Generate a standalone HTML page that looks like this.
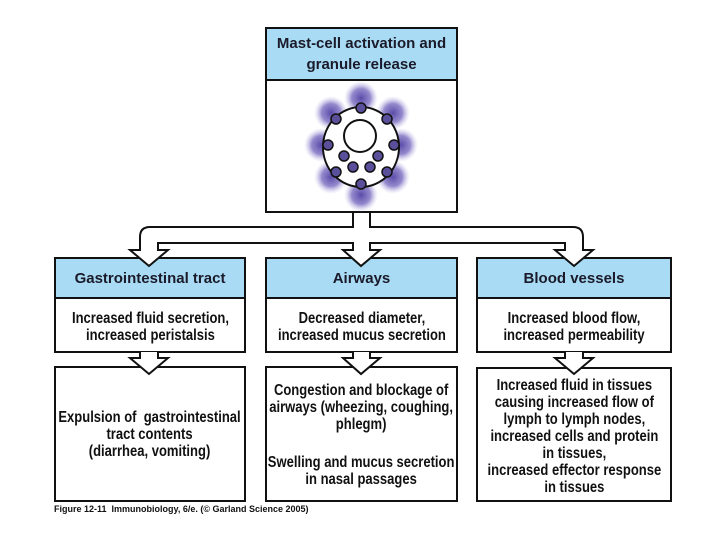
<!DOCTYPE html>
<html><head><meta charset="utf-8"><style>
body{margin:0;width:720px;height:540px;background:#fff;position:relative;overflow:hidden;font-family:"Liberation Sans",sans-serif;}
.b{position:absolute;border:2px solid #111;box-sizing:border-box;background:#fff;}
.h{position:absolute;background:#a9dcf4;border:2px solid #111;box-sizing:border-box;display:flex;align-items:center;justify-content:center;text-align:center;font-weight:bold;font-size:15px;color:#1a1a2a;line-height:21px;white-space:nowrap;}
.t{position:absolute;text-align:center;display:flex;align-items:center;justify-content:center;}
.t span{display:inline-block;font-weight:bold;font-size:15.5px;line-height:17px;color:#111;white-space:nowrap;transform:scaleX(0.84);}
svg{position:absolute;left:0;top:0;}
</style></head><body>
<div class="b" style="left:265px;top:27px;width:193px;height:186px"></div>
<div class="h" style="left:265px;top:27px;width:193px;height:54px">Mast-cell activation and<br>granule release</div>

<div class="b" style="left:54px;top:257px;width:192px;height:96px"></div>
<div class="h" style="left:54px;top:257px;width:192px;height:42px">Gastrointestinal tract</div>
<div class="t" style="left:54px;top:300px;width:192px;height:54px"><span>Increased fluid secretion,<br>increased peristalsis</span></div>
<div class="b" style="left:54px;top:366px;width:192px;height:136px"></div>
<div class="t" style="left:54px;top:366px;width:192px;height:136px"><span>Expulsion of &nbsp;gastrointestinal<br>tract contents<br>(diarrhea, vomiting)</span></div>

<div class="b" style="left:265px;top:257px;width:193px;height:96px"></div>
<div class="h" style="left:265px;top:257px;width:193px;height:42px">Airways</div>
<div class="t" style="left:265px;top:300px;width:193px;height:54px"><span>Decreased diameter,<br>increased mucus secretion</span></div>
<div class="b" style="left:265px;top:366px;width:193px;height:136px"></div>
<div class="t" style="left:265px;top:382px;width:193px;height:116px;align-items:flex-start"><span>Congestion and blockage of<br>airways (wheezing, coughing,<br>phlegm)<br><span style="display:block;height:21px;transform:none"></span>Swelling and mucus secretion<br>in nasal passages</span></div>

<div class="b" style="left:476px;top:257px;width:196px;height:96px"></div>
<div class="h" style="left:476px;top:257px;width:196px;height:42px">Blood vessels</div>
<div class="t" style="left:476px;top:300px;width:196px;height:54px"><span>Increased blood flow,<br>increased permeability</span></div>
<div class="b" style="left:476px;top:367px;width:196px;height:135px"></div>
<div class="t" style="left:476px;top:369px;width:196px;height:135px"><span>Increased fluid in tissues<br>causing increased flow of<br>lymph to lymph nodes,<br>increased cells and protein<br>in tissues,<br>increased effector response<br>in tissues</span></div>

<svg width="720" height="540" viewBox="0 0 720 540">
<defs><radialGradient id="g"><stop offset="0" stop-color="#5a4aa8"/><stop offset="0.55" stop-color="#7a6cc0" stop-opacity="0.8"/><stop offset="1" stop-color="#c8c0ea" stop-opacity="0"/></radialGradient></defs>
<g>
<circle cx="361" cy="98" r="17" fill="url(#g)"/>
<circle cx="331" cy="113" r="17" fill="url(#g)"/>
<circle cx="393" cy="113" r="17" fill="url(#g)"/>
<circle cx="321" cy="145" r="17" fill="url(#g)"/>
<circle cx="401" cy="145" r="17" fill="url(#g)"/>
<circle cx="331" cy="177" r="17" fill="url(#g)"/>
<circle cx="393" cy="177" r="17" fill="url(#g)"/>
<circle cx="361" cy="195" r="17" fill="url(#g)"/>
</g>
<ellipse cx="361" cy="147" rx="38" ry="40" fill="#fff" stroke="#111" stroke-width="2"/>
<circle cx="360" cy="136" r="16" fill="#fff" stroke="#111" stroke-width="2"/>
<g fill="#5a4f9a" stroke="#111" stroke-width="1.5">
<circle cx="361" cy="108" r="5"/><circle cx="336" cy="119" r="5"/><circle cx="387" cy="119" r="5"/>
<circle cx="328" cy="145" r="5"/><circle cx="394" cy="145" r="5"/>
<circle cx="336" cy="172" r="5"/><circle cx="387" cy="172" r="5"/><circle cx="361" cy="184" r="5"/>
<circle cx="344" cy="156" r="5"/><circle cx="378" cy="156" r="5"/><circle cx="353" cy="167" r="5"/><circle cx="370" cy="167" r="5"/>
</g>
<path d="M353,213 L353,227 L150,227 Q140,227 140,237 L140,250 L130,250 L149,266 L168,250 L158,250 L158,243 L353,243 L353,250 L343,250 L361,266 L380,250 L370,250 L370,243 L565,243 L565,250 L555,250 L574,266 L593,250 L583,250 L583,237 Q583,227 573,227 L370,227 L370,213" fill="#fff" stroke="#111" stroke-width="2" stroke-linejoin="miter"/>
<path d="M140,352 L140,358 L130,358 L149,374 L168,358 L158,358 L158,352" fill="#fff" stroke="#111" stroke-width="2"/>
<path d="M353,352 L353,358 L343,358 L361,374 L380,358 L370,358 L370,352" fill="#fff" stroke="#111" stroke-width="2"/>
<path d="M565,352 L565,358 L555,358 L574,374 L593,358 L583,358 L583,352" fill="#fff" stroke="#111" stroke-width="2"/>
</svg>
<div style="position:absolute;left:54px;top:504px;font-size:9px;font-weight:bold;color:#111;white-space:nowrap">Figure 12-11 &nbsp;Immunobiology, 6/e. (© Garland Science 2005)</div>
</body></html>
